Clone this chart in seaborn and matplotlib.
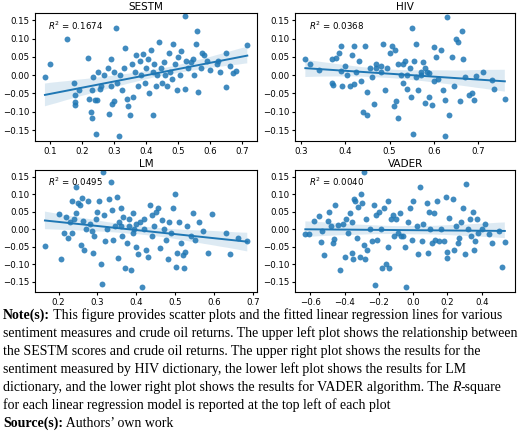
import numpy as np
import pandas as pd
import matplotlib
matplotlib.use("Agg")
import matplotlib.pyplot as plt
import seaborn as sns

sestm = [(0.085,-0.005),(0.10,0.032),(0.155,0.10),(0.175,-0.022),(0.178,-0.055),(0.178,-0.072),(0.178,-0.082),(0.19,-0.04),(0.22,0.048),(0.222,-0.065),(0.228,-0.10),(0.23,-0.118),(0.232,-0.04),(0.235,-0.005),(0.24,-0.068),(0.245,-0.16),(0.248,-0.068),(0.25,0.01),(0.255,-0.038),(0.26,-0.03),(0.27,0.0),(0.28,0.02),(0.285,-0.105),(0.29,0.045),(0.29,-0.03),(0.295,-0.08),(0.30,-0.07),(0.30,0.01),(0.305,0.13),(0.31,-0.02),(0.315,-0.165),(0.32,0.0),(0.325,-0.04),(0.33,0.02),(0.335,0.075),(0.34,-0.065),(0.345,-0.085),(0.35,-0.11),(0.355,0.03),(0.36,-0.06),(0.365,0.01),(0.37,0.055),(0.375,-0.03),(0.38,0.04),(0.385,0.0),(0.39,0.058),(0.395,-0.02),(0.40,0.02),(0.405,0.045),(0.41,-0.05),(0.415,0.07),(0.42,-0.11),(0.42,0.01),(0.425,0.03),(0.43,-0.03),(0.435,0.0),(0.44,0.092),(0.445,0.02),(0.45,-0.02),(0.455,0.035),(0.46,0.0),(0.465,-0.03),(0.47,0.06),(0.475,0.01),(0.48,-0.01),(0.485,0.085),(0.49,0.03),(0.495,-0.04),(0.50,0.05),(0.505,0.0),(0.51,0.065),(0.52,0.162),(0.52,-0.038),(0.525,0.04),(0.53,0.02),(0.54,0.035),(0.545,0.045),(0.55,0.0),(0.555,0.085),(0.558,0.12),(0.56,-0.045),(0.57,0.02),(0.575,0.06),(0.58,0.055),(0.59,0.04),(0.60,0.015),(0.62,0.03),(0.625,0.04),(0.63,0.01),(0.65,0.062),(0.65,-0.032),(0.66,0.025),(0.67,0.007),(0.68,0.012),(0.715,0.082)]
hiv = [(0.31,0.045),(0.32,0.03),(0.34,0.015),(0.37,0.045),(0.37,-0.02),(0.372,-0.028),(0.38,0.048),(0.385,0.062),(0.39,0.08),(0.39,0.012),(0.392,-0.03),(0.40,0.025),(0.405,0.0),(0.41,-0.03),(0.415,0.055),(0.42,0.08),(0.42,-0.025),(0.425,0.01),(0.43,0.04),(0.435,-0.015),(0.44,-0.1),(0.445,0.08),(0.448,-0.045),(0.45,-0.11),(0.455,0.02),(0.46,-0.005),(0.465,-0.078),(0.47,0.03),(0.48,0.01),(0.485,0.085),(0.49,-0.04),(0.495,0.02),(0.50,0.06),(0.505,0.08),(0.51,-0.085),(0.512,0.07),(0.515,-0.07),(0.518,-0.118),(0.52,0.03),(0.525,0.0),(0.53,-0.02),(0.535,0.04),(0.54,-0.038),(0.545,0.02),(0.548,-0.06),(0.55,0.13),(0.552,-0.16),(0.555,0.04),(0.56,0.085),(0.565,-0.04),(0.57,0.0),(0.575,0.035),(0.58,-0.075),(0.585,0.01),(0.59,-0.06),(0.595,-0.082),(0.60,0.078),(0.605,0.05),(0.61,-0.01),(0.615,0.07),(0.62,-0.04),(0.625,-0.068),(0.625,-0.165),(0.63,0.16),(0.633,-0.108),(0.64,0.05),(0.645,-0.03),(0.65,0.10),(0.655,0.09),(0.66,-0.07),(0.663,0.12),(0.665,0.045),(0.67,-0.005),(0.68,-0.055),(0.685,-0.048),(0.69,-0.068),(0.695,-0.002),(0.71,0.01),(0.73,-0.012),(0.735,-0.038),(0.76,-0.065),(0.57,0.01),(0.58,0.02),(0.56,-0.005),(0.59,0.005),(0.6,-0.015),(0.47,0.02),(0.48,0.025),(0.53,0.03),(0.54,0.0)]
lm = [(0.165,-0.048),(0.20,0.042),(0.205,-0.085),(0.215,-0.012),(0.22,0.035),(0.225,-0.025),(0.23,0.02),(0.235,-0.012),(0.235,0.08),(0.24,0.03),(0.245,0.045),(0.245,0.12),(0.25,0.075),(0.255,0.07),(0.258,-0.045),(0.26,0.088),(0.262,0.022),(0.265,-0.06),(0.27,0.0),(0.275,0.08),(0.28,0.015),(0.285,-0.005),(0.288,-0.068),(0.29,-0.02),(0.295,0.03),(0.30,0.05),(0.305,0.08),(0.31,-0.10),(0.312,-0.158),(0.315,0.162),(0.318,0.04),(0.32,-0.035),(0.325,0.0),(0.33,0.085),(0.335,0.135),(0.338,0.055),(0.34,-0.03),(0.345,0.01),(0.35,0.092),(0.352,-0.082),(0.355,0.02),(0.36,0.06),(0.362,-0.02),(0.365,0.035),(0.37,-0.11),(0.375,-0.04),(0.38,0.01),(0.385,-0.118),(0.39,0.045),(0.395,0.0),(0.40,-0.05),(0.405,-0.07),(0.41,0.02),(0.415,-0.165),(0.42,0.03),(0.425,-0.06),(0.43,-0.08),(0.435,0.07),(0.44,-0.02),(0.445,0.01),(0.45,0.05),(0.455,0.06),(0.46,-0.055),(0.465,0.025),(0.47,0.0),(0.475,-0.03),(0.48,-0.085),(0.485,0.02),(0.49,-0.01),(0.495,0.06),(0.50,0.10),(0.502,-0.107),(0.505,-0.068),(0.51,0.02),(0.515,-0.04),(0.52,-0.075),(0.522,-0.11),(0.525,-0.065),(0.53,0.008),(0.54,-0.02),(0.545,0.045),(0.55,-0.03),(0.56,0.02),(0.57,-0.005),(0.585,-0.068),(0.595,0.042),(0.63,-0.01),(0.64,-0.072),(0.66,-0.025),(0.685,-0.035),(0.36,0.01),(0.38,0.03),(0.40,0.015),(0.42,0.0),(0.44,0.04),(0.39,-0.01)]
vader = [(-0.63,-0.015),(-0.61,-0.013),(-0.58,0.022),(-0.55,0.038),(-0.54,-0.038),(-0.535,-0.005),(-0.52,-0.074),(-0.50,0.022),(-0.49,0.05),(-0.48,0.01),(-0.47,-0.04),(-0.46,-0.028),(-0.455,0.07),(-0.44,0.012),(-0.43,-0.118),(-0.41,0.015),(-0.40,-0.08),(-0.39,0.028),(-0.38,-0.012),(-0.37,0.045),(-0.36,-0.068),(-0.355,0.02),(-0.35,-0.085),(-0.345,0.085),(-0.34,0.08),(-0.33,-0.025),(-0.32,0.062),(-0.31,-0.08),(-0.305,0.10),(-0.30,0.075),(-0.29,-0.045),(-0.285,0.162),(-0.28,-0.085),(-0.275,0.03),(-0.27,-0.06),(-0.25,0.0),(-0.24,-0.035),(-0.23,0.07),(-0.225,-0.16),(-0.22,0.04),(-0.21,-0.03),(-0.20,0.05),(-0.19,0.0),(-0.18,-0.11),(-0.17,0.06),(-0.16,-0.10),(-0.15,0.08),(-0.145,-0.05),(-0.14,-0.11),(-0.13,0.03),(-0.12,0.04),(-0.11,-0.02),(-0.10,0.03),(-0.09,-0.01),(-0.08,0.046),(-0.07,-0.02),(-0.06,-0.02),(-0.05,-0.05),(-0.04,-0.165),(-0.03,0.02),(-0.02,0.06),(-0.01,-0.03),(0.0,0.08),(0.02,0.01),(0.03,-0.07),(0.04,0.12),(0.05,-0.035),(0.06,0.015),(0.08,0.075),(0.085,-0.068),(0.09,0.05),(0.10,0.0),(0.11,-0.04),(0.12,0.045),(0.13,-0.03),(0.14,0.08),(0.15,-0.035),(0.16,0.0),(0.18,-0.035),(0.19,0.092),(0.195,-0.065),(0.20,-0.082),(0.21,0.033),(0.23,0.087),(0.24,-0.06),(0.25,0.01),(0.26,-0.04),(0.27,-0.025),(0.28,0.02),(0.29,0.06),(0.30,-0.072),(0.31,0.13),(0.32,0.0),(0.33,0.03),(0.34,-0.02),(0.35,0.048),(0.355,-0.06),(0.36,-0.035),(0.37,0.028),(0.38,-0.01),(0.40,0.0),(0.42,0.015),(0.44,-0.015),(0.46,-0.04),(0.50,-0.005),(0.52,-0.108),(0.535,-0.038)]

titles = ["SESTM", "HIV", "LM", "VADER"]
r2_labels = ["$R^2$ = 0.1674", "$R^2$ = 0.0368", "$R^2$ = 0.0495", "$R^2$ = 0.0040"]
xticks = [[0.1,0.2,0.3,0.4,0.5,0.6,0.7],[0.3,0.4,0.5,0.6,0.7],[0.2,0.3,0.4,0.5,0.6,0.7],[-0.6,-0.4,-0.2,0.0,0.2,0.4]]
yticks = [-0.15,-0.10,-0.05,0.00,0.05,0.10,0.15]

fig = plt.figure(figsize=(5.2, 4.34), dpi=100)
rects = [[0.067,0.675,0.428,0.295],[0.568,0.675,0.422,0.295],[0.067,0.327,0.428,0.282],[0.568,0.327,0.422,0.282]]
for data, t, r2, xt, rc in zip([sestm, hiv, lm, vader], titles, r2_labels, xticks, rects):
    ax = fig.add_axes(rc)
    df = pd.DataFrame(data, columns=["x", "y"])
    sns.regplot(data=df, x="x", y="y", ax=ax, color="#1f77b4", seed=1,
                scatter_kws=dict(s=18, alpha=0.85, linewidths=0), line_kws=dict(lw=1.4))
    ax.set_title(t, fontsize=7.5, pad=2)
    ax.set_xlabel(""); ax.set_ylabel("")
    ax.set_xticks(xt); ax.set_yticks(yticks)
    ax.set_ylim(-0.18, 0.17)
    ax.tick_params(labelsize=6.2, length=2.5, pad=1.5)
    ax.text(0.06, 0.9, r2, transform=ax.transAxes, fontsize=6.2, va="center")

serif = "Liberation Serif"
fs = 10

def chain(y, segs):
    last = None
    for txt, kw in segs:
        if last is None:
            last = fig.text(0.006, y, txt, fontsize=fs, family=serif, va="baseline", **kw)
        else:
            last = fig.add_artist(matplotlib.text.Annotation(txt, xy=(1, 0), xycoords=last,
                   va="bottom", ha="left", fontsize=fs, family=serif, annotation_clip=False, **kw))
    return last

ys = [1-319/434, 1-337/434, 1-355/434, 1-373/434, 1-391/434, 1-409/434, 1-427/434]
chain(ys[0], [("Note(s):", dict(weight="bold")), (" This figure provides scatter plots and the fitted linear regression lines for various", {})])
chain(ys[1], [("sentiment measures and crude oil returns. The upper left plot shows the relationship between", {})])
chain(ys[2], [("the SESTM scores and crude oil returns. The upper right plot shows the results for the", {})])
chain(ys[3], [("sentiment measured by HIV dictionary, the lower left plot shows the results for LM", {})])
chain(ys[4], [("dictionary, and the lower right plot shows the results for VADER algorithm. The ", {}), ("R", dict(style="italic")), ("-square", {})])
chain(ys[5], [("for each linear regression model is reported at the top left of each plot", {})])
chain(ys[6], [("Source(s):", dict(weight="bold")), (" Authors\u2019 own work", {})])

fig.savefig("out.png", dpi=100)
